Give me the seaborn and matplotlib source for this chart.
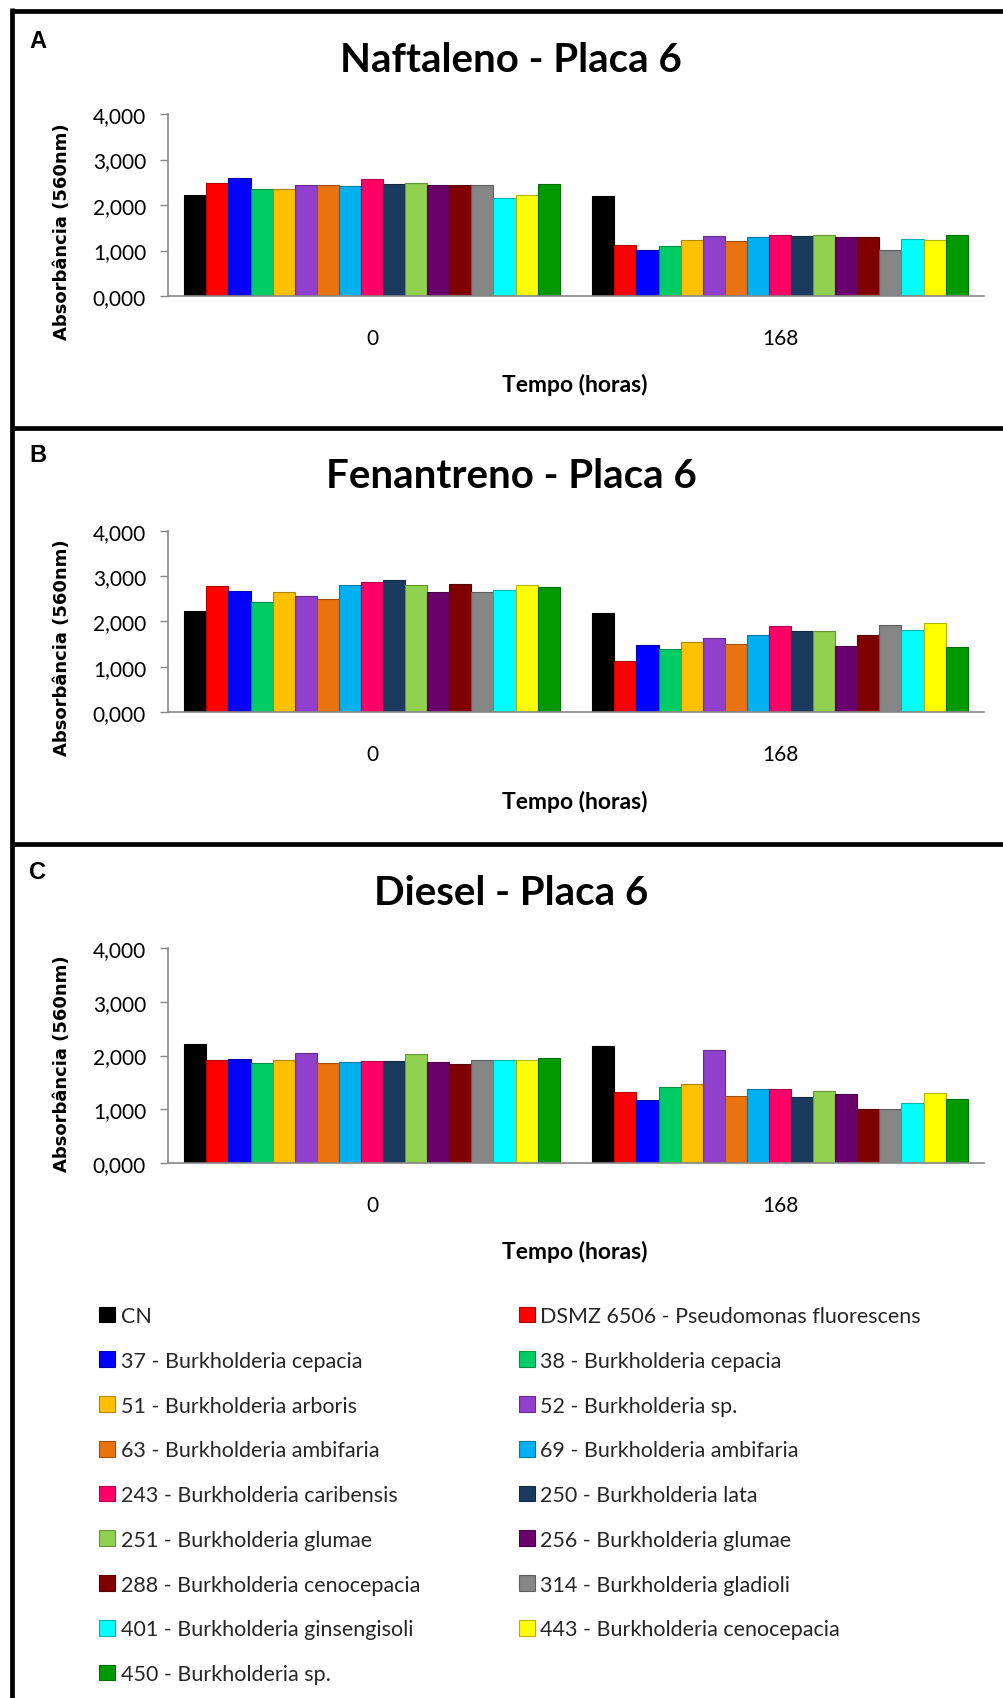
import matplotlib
matplotlib.use("Agg")
import matplotlib.pyplot as plt
import seaborn as sns
import pandas as pd
from matplotlib.ticker import FuncFormatter, FixedLocator
from matplotlib.lines import Line2D
from matplotlib.patches import Patch

sns.set_theme(style="white")
plt.rcParams['font.family'] = ['Lato', 'DejaVu Sans']

# ---------------- data ----------------
strains = [
    "CN", "DSMZ 6506 - Pseudomonas fluorescens",
    "37 - Burkholderia cepacia", "38 - Burkholderia cepacia",
    "51 - Burkholderia arboris", "52 - Burkholderia sp.",
    "63 - Burkholderia ambifaria", "69 - Burkholderia ambifaria",
    "243 - Burkholderia caribensis", "250 - Burkholderia lata",
    "251 - Burkholderia glumae", "256 - Burkholderia glumae",
    "288 - Burkholderia cenocepacia", "314 - Burkholderia gladioli",
    "401 - Burkholderia ginsengisoli", "443 - Burkholderia cenocepacia",
    "450 - Burkholderia sp.",
]
colors = [
    "#000000", "#FF0000", "#0000FF", "#00CC66", "#FFC000", "#9040CC",
    "#E8730F", "#00B0F0", "#FF0066", "#1A3A60", "#92D050", "#6A006A",
    "#800000", "#868686", "#00FFFF", "#FFFF00", "#009A00",
]
times = ["0", "168"]

naft_0 = [2.22, 2.49, 2.60, 2.35, 2.36, 2.45, 2.43, 2.41, 2.58, 2.47, 2.49, 2.43,
          2.45, 2.45, 2.16, 2.23, 2.47]
naft_168 = [2.19, 1.11, 1.01, 1.10, 1.22, 1.31, 1.20, 1.29, 1.33, 1.31, 1.33, 1.30,
            1.29, 1.01, 1.26, 1.23, 1.34]

fen_0 = [2.22, 2.77, 2.67, 2.43, 2.64, 2.55, 2.50, 2.80, 2.86, 2.91, 2.80, 2.64,
         2.82, 2.64, 2.69, 2.80, 2.75]
fen_168 = [2.19, 1.12, 1.48, 1.39, 1.54, 1.63, 1.51, 1.70, 1.89, 1.78, 1.78, 1.45,
           1.69, 1.92, 1.81, 1.96, 1.43]

dies_0 = [2.21, 1.91, 1.93, 1.86, 1.91, 2.05, 1.86, 1.88, 1.90, 1.90, 2.02, 1.88,
          1.84, 1.91, 1.91, 1.91, 1.95]
dies_168 = [2.17, 1.33, 1.18, 1.42, 1.47, 2.11, 1.25, 1.38, 1.37, 1.22, 1.34, 1.28,
            1.00, 1.01, 1.12, 1.31, 1.20]

titles = ["Naftaleno - Placa 6", "Fenantreno - Placa 6", "Diesel - Placa 6"]
letters = ["A", "B", "C"]
yticks = [0, 1, 2, 3, 4]
ylabel = "Absorbância (560nm)"
xlabel = "Tempo (horas)"


def long_df(v0, v168):
    rows = []
    for s, a in zip(strains, v0):
        rows.append({"Tempo": times[0], "Cepa": s, "Abs": a})
    for s, a in zip(strains, v168):
        rows.append({"Tempo": times[1], "Cepa": s, "Abs": a})
    return pd.DataFrame(rows)


panels = [long_df(naft_0, naft_168), long_df(fen_0, fen_168), long_df(dies_0, dies_168)]

# ---------------- layout (pixels in a 1004x1699 canvas) ----------------
W, H = 1004, 1699
fig = plt.figure(figsize=(W / 100, H / 100), dpi=100)
fig.patch.set_facecolor("white")

ax_left, ax_right = 168, 984
axes_px = [(115, 297), (531.7, 713), (949, 1164)]   # top, bottom
title_y = [60, 476.5, 893.5]
letter_y = [41, 456, 873]
xlabel_top = [374, 791, 1241]
ylabel_right = 71
ylabel_y = [231.5, 648, 1064]
gray = "#868686"

for i, df in enumerate(panels):
    top, bot = axes_px[i]
    ax = fig.add_axes([ax_left / W, 1 - bot / H, (ax_right - ax_left) / W, (bot - top) / H])
    sns.barplot(data=df, x="Tempo", y="Abs", hue="Cepa", hue_order=strains, order=times,
                palette=colors, width=0.92, gap=0, saturation=1, ax=ax, legend=False,
                errorbar=None)
    for p in ax.patches:
        fc = p.get_facecolor()
        p.set_edgecolor(tuple(0.7 * c for c in fc[:3]) + (1,))
        p.set_linewidth(0.8)
    ax.set_ylim(0, 4)
    ax.set_xlim(-0.5, 1.5)
    ax.yaxis.set_major_locator(FixedLocator(yticks))
    ax.yaxis.set_major_formatter(FuncFormatter(lambda v, p: f"{v:.3f}".replace(".", ",")))
    for s in ["top", "right"]:
        ax.spines[s].set_visible(False)
    for s in ["left", "bottom"]:
        ax.spines[s].set_color(gray)
        ax.spines[s].set_linewidth(1.2)
    ax.tick_params(axis="y", left=True, length=5.8, width=1.0, color=gray,
                   labelsize=15, pad=10, labelcolor="black")
    ax.tick_params(axis="x", bottom=False, length=0, labelsize=15, pad=23,
                   labelcolor="black")
    ax.set_xlabel(xlabel, fontsize=16.5, fontweight="bold", color="black")
    ax.xaxis.set_label_coords(0.499, -(xlabel_top[i] - bot) / (bot - top))
    ax.set_ylabel(ylabel, fontsize=13, fontweight="bold", family="DejaVu Sans", color="black")
    ax.yaxis.set_label_coords((ylabel_right - ax_left) / (ax_right - ax_left),
                              (bot - ylabel_y[i]) / (bot - top))
    ax.set_facecolor("white")

    fig.text(511 / W, 1 - title_y[i] / H, titles[i], ha="center", va="center",
             fontsize=29, fontweight="bold", color="black")
    fig.text(38 / W, 1 - letter_y[i] / H, letters[i], ha="center", va="center",
             fontsize=17, fontweight="bold", family="Liberation Sans", color="black")

# frame lines
lw = 3.4
for y in [11.7, 428.5, 845]:
    fig.add_artist(Line2D([11.7 / W, 1], [1 - y / H, 1 - y / H], transform=fig.transFigure,
                          color="black", lw=lw, solid_capstyle="butt"))
fig.add_artist(Line2D([11.7 / W, 11.7 / W], [1 - 9.3 / H, 0], transform=fig.transFigure,
                      color="black", lw=lw, solid_capstyle="butt"))

# legend in two columns
handles = [Patch(facecolor=c, edgecolor=tuple(0.7 * int(c[k:k + 2], 16) / 255 for k in (1, 3, 5)),
                 linewidth=0.8) for c in colors]
col_x = [99, 518.6]
for j in range(2):
    hs = handles[j::2]
    ls = strains[j::2]
    fig.legend(hs, ls, loc="upper left", bbox_to_anchor=(col_x[j] / W, 1 - 1307 / H),
               bbox_transform=fig.transFigure, frameon=False, borderpad=0, borderaxespad=0,
               fontsize=15.5, handlelength=0.75, handleheight=0.75, handletextpad=0.25,
               labelspacing=1.15)

fig.savefig("out.png", dpi=100, facecolor="white")
